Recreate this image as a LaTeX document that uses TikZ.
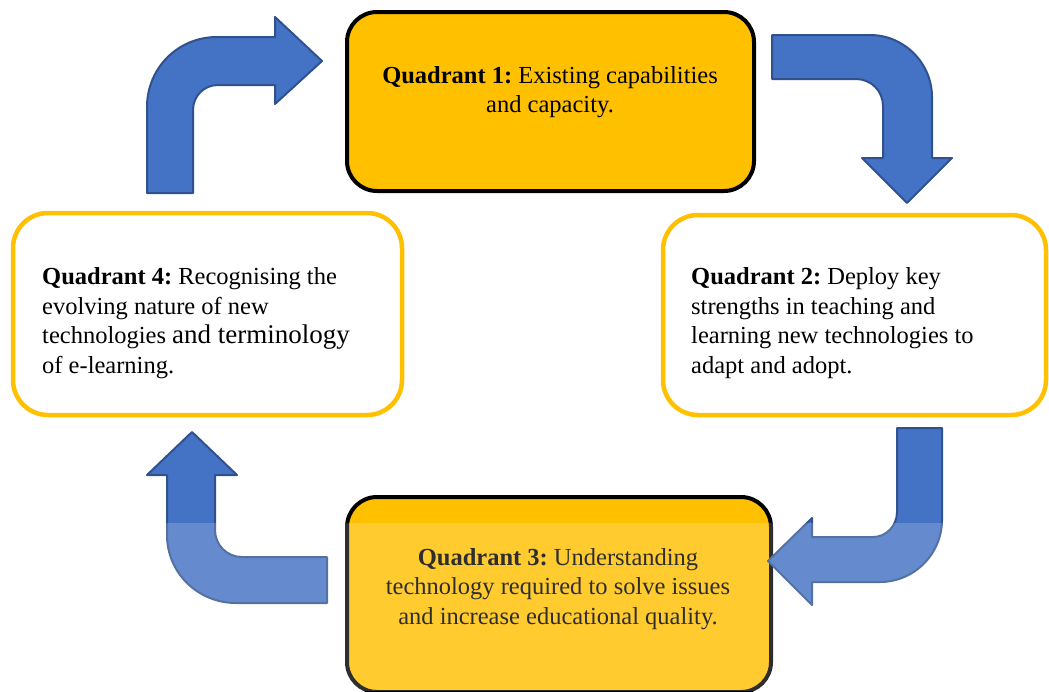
\documentclass[tikz,border=0pt]{standalone}
\usepackage{fontspec}
\setmainfont{Liberation Serif}
\frenchspacing
\definecolor{gold}{HTML}{FFC000}
\definecolor{arrblue}{HTML}{4472C4}
\definecolor{arrline}{HTML}{2F528F}
\tikzset{
  darkbox/.style={draw=black, line width=4pt, fill=gold, rounded corners=30pt},
  lightbox/.style={draw=gold, line width=4.5pt, fill=white, rounded corners=35pt},
  txt/.style={font=\fontsize{24.5}{29.5}\selectfont, inner sep=0pt, text=black},
  bentarrow/.style={fill=arrblue, draw=arrline, line width=2pt, line join=round}
}
\begin{document}
\begin{tikzpicture}[x=1pt, y=-1pt]
\useasboundingbox (0,0) rectangle (1049,691);
% boxes
\draw[darkbox] (347,12) rectangle (754,191);
\node[coordinate] (q1) at (550,101) {};
\draw[lightbox] (663,215) rectangle (1046,415);
\node[coordinate] (q2) at (855,315) {};
\draw[darkbox] (347,497) rectangle (771,692);
\node[coordinate] (q3) at (559,594) {};
\draw[lightbox] (13,213) rectangle (402,415);
\node[coordinate] (q4) at (207,314) {};
% texts
\node[txt, align=center] (t1) at (550,92) {\textbf{Quadrant 1:} Existing capabilities\\and capacity.};
\node[txt, align=left, anchor=west] (t2) at (691,323) {\textbf{Quadrant 2:} Deploy key\\strengths in teaching and\\learning new technologies to\\adapt and adopt.};
\node[txt, align=center] (t3) at (558,589) {\textbf{Quadrant 3:} Understanding\\technology required to solve issues\\and increase educational quality.};
\node[txt, align=left, anchor=west] (t4) at (42,323) {\textbf{Quadrant 4:} Recognising the\\evolving nature of new\\technologies {\fontsize{27}{29.5}\selectfont and terminology}\\of e-learning.};
% bent arrows
\draw[bentarrow] (147,193) -- (147,107) .. controls (147,68) and (178,37) .. (217,37) -- (275,37) -- (275,17) -- (322,61) -- (275,104) -- (275,85) -- (218,85) .. controls (204,85) and (193,96) .. (193,110) -- (193,193) -- cycle;
\draw[bentarrow] (772,35) -- (870,35) .. controls (904,35) and (932,63) .. (932,97) -- (932,158) -- (952,158) -- (907,203) -- (862,158) -- (883,158) -- (883,106) .. controls (883,91) and (871,79) .. (856,79) -- (772,79) -- cycle;
\draw[bentarrow] (897,428) -- (942,428) -- (942,520) .. controls (942,554) and (914,582) .. (880,582) -- (812,582) -- (812,605) -- (768,561) -- (812,518) -- (812,537) -- (873,537) .. controls (886,537) and (897,526) .. (897,512) -- cycle;
\draw[bentarrow] (327,557) -- (242,557) .. controls (227,557) and (215,545) .. (215,530) -- (215,475) -- (237,475) -- (192,432) -- (147,475) -- (167,475) -- (167,535) .. controls (167,573) and (198,603) .. (236,603) -- (327,603) -- cycle;
% faded lower band
\fill[white, opacity=0.18] (0,523) rectangle (1049,691);
\end{tikzpicture}
\end{document}
